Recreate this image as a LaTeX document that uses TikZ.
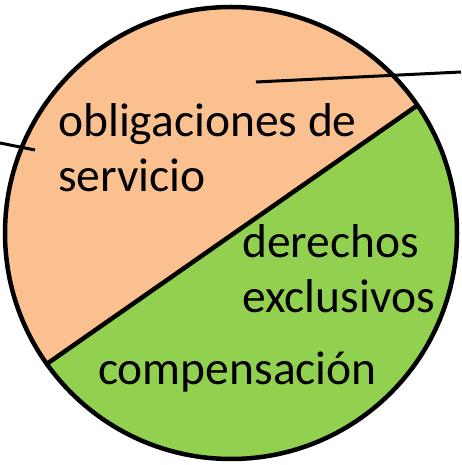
\documentclass[tikz,border=0pt]{standalone}
\usepackage{fontspec}
\setmainfont{Carlito}
\definecolor{peach}{HTML}{FAC090}
\definecolor{leafgreen}{HTML}{92D050}
\tikzset{
  label/.style = {anchor=base west, inner sep=0pt, align=left,
                  font=\fontsize{47.5}{55}\selectfont},
  rim/.style = {line width=4.5pt},
  leader/.style = {line width=3pt}
}

\begin{document}
\begin{tikzpicture}[x=1pt, y=1pt]
\useasboundingbox (0,0) rectangle (461,465);
\coordinate (c) at (231,232);
\coordinate (chordL) at ([shift={(215.4:226)}]c);
\coordinate (chordR) at ([shift={(34.4:226)}]c);
% the two parts of the circle
\fill[peach] (c) circle[radius=226];
\fill[leafgreen] (chordR) arc[start angle=34.4, end angle=-144.6, radius=226] -- cycle;
\draw[rim] (c) circle[radius=226];
\draw[rim] (chordL) -- (chordR);
% labels
\path (58,273) node[label] (oblig) {obligaciones de\\servicio};
\path (242,152) node[label] (derech) {derechos\\exclusivos};
\path (98,80) node[label] (comp) {compensación};
% leader lines
\coordinate (tipA) at (256,383);
\coordinate (outA) at (461,393);
\coordinate (tipB) at (35,315);
\coordinate (outB) at (0,322);
\draw[leader] (tipA) -- (outA);
\draw[leader] (tipB) -- (outB);
\end{tikzpicture}
\end{document}
